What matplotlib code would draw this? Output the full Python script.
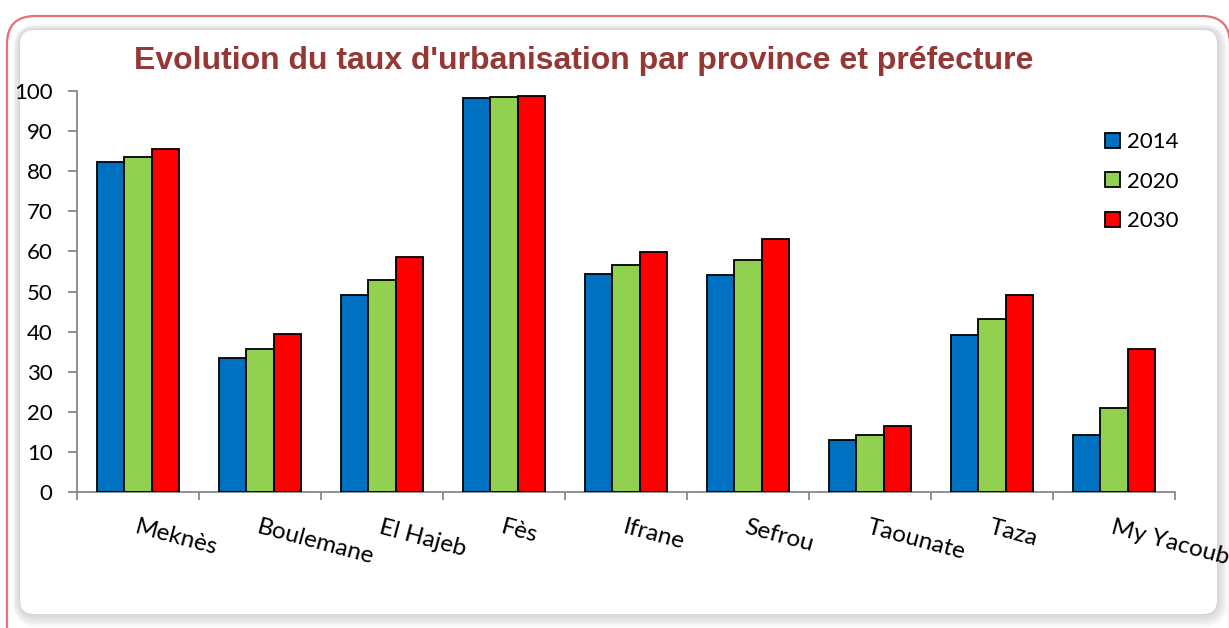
import matplotlib
matplotlib.use("Agg")
import matplotlib.pyplot as plt
from matplotlib.patches import FancyBboxPatch
from matplotlib.transforms import IdentityTransform
import numpy as np

categories = ["Meknès", "Boulemane", "El Hajeb", "Fès", "Ifrane", "Sefrou", "Taounate", "Taza", "My Yacoub"]
years = ["2014", "2020", "2030"]
v2014 = [82.3, 33.4, 49.1, 98.2, 54.4, 54.2, 13.0, 39.2, 14.2]
v2020 = [83.5, 35.7, 52.9, 98.5, 56.7, 57.8, 14.3, 43.1, 20.9]
v2030 = [85.5, 39.4, 58.7, 98.7, 59.9, 63.0, 16.5, 49.2, 35.7]
series = [v2014, v2020, v2030]
colors = ["#0070C0", "#92D050", "#FF0000"]

W, H = 1229, 628
fig = plt.figure(figsize=(W / 100, H / 100), dpi=100)
fig.patch.set_facecolor("white")


def rbox(x0, ytop, x1, ybot, r, **kw):
    p = FancyBboxPatch((x0, H - ybot), x1 - x0, ybot - ytop,
                       boxstyle=f"round,pad=0,rounding_size={r}",
                       transform=IdentityTransform(), **kw)
    fig.patches.append(p)
    return p


# outer frame with red border
rbox(7, 16, 1230, 660, 28, facecolor="white", edgecolor="#E87070", linewidth=1.6, zorder=-20)
# soft shadow around inner panel
for i in range(12, 0, -1):
    rbox(20 - i * 0.6, 30 - i * 0.5, 1217 + i * 0.9, 614 + i * 1.1, 14 + i,
         facecolor="#707070", edgecolor="none", alpha=0.025, zorder=-15)
# inner white panel
rbox(20, 30, 1217, 614, 14, facecolor="white", edgecolor="none", zorder=-10)

ax = fig.add_axes([77 / W, (H - 492) / H, (1175 - 77) / W, (492 - 91) / H])
ax.set_facecolor("none")
ax.set_zorder(5)

x = np.arange(len(categories))
w = 0.224
for i, (vals, c, yr) in enumerate(zip(series, colors, years)):
    ax.bar(x + (i - 1) * w, vals, width=w, color=c, edgecolor="black", linewidth=1.3, label=yr, zorder=3)

ax.set_xlim(-0.5, len(categories) - 0.5)
ax.set_ylim(0, 100)
ax.set_yticks(range(0, 101, 10))
ax.set_xticks(np.arange(-0.5, len(categories) + 0.5, 1))
ax.set_xticklabels([])
ax.tick_params(axis="x", length=5.5, color="#888888", direction="out", width=1.3)
ax.tick_params(axis="y", length=6.5, color="#888888", direction="out", width=1.3, labelsize=16, pad=11)
for lab in ax.get_yticklabels():
    lab.set_family(["Lato", "DejaVu Sans"])
for s in ["top", "right"]:
    ax.spines[s].set_visible(False)
for s in ["left", "bottom"]:
    ax.spines[s].set_color("#888888")
    ax.spines[s].set_linewidth(1.3)

for xi, name in zip(x, categories):
    ax.text(xi, -6.2, name, rotation=-15, rotation_mode="anchor", ha="left", va="top",
            fontsize=17.5, family=["Lato", "DejaVu Sans"], clip_on=False)

leg = ax.legend(loc="upper left", bbox_to_anchor=(1105 / W, 1 - 132 / H), bbox_transform=fig.transFigure,
                frameon=False, borderpad=0, borderaxespad=0,
                prop={"family": ["Lato", "DejaVu Sans"], "size": 16},
                handlelength=0.68, handleheight=0.68, handletextpad=0.3, labelspacing=0.88)

fig.text(584 / W, 1 - 61 / H, "Evolution du taux d'urbanisation par province et préfecture",
         ha="center", va="center", fontsize=23, fontweight="bold", color="#953735",
         family=["Liberation Sans", "DejaVu Sans"])

fig.savefig("out.png", dpi=100)
